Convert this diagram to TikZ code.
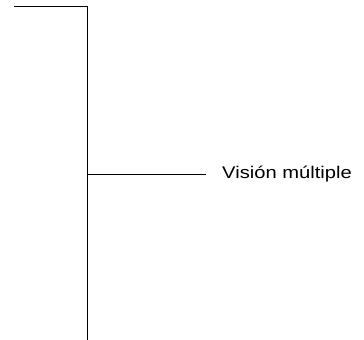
\documentclass[tikz,border=0pt]{standalone}
\usepackage{fontspec}
\setmainfont{Liberation Sans}
\begin{document}
\begin{tikzpicture}[x=1bp,y=1bp,
  rule/.style={line width=0.9bp, black},
  lbl/.style={font=\fontsize{17}{20}\selectfont, anchor=base west, inner sep=0pt}]
\useasboundingbox (0,0) rectangle (364,340);
\coordinate (tl) at (14,334);
\coordinate (tr) at (87,334);
\coordinate (bot) at (87,0);
\coordinate (mid) at (87,166);
\coordinate (tip) at (206,166);
\node[lbl] (vm) at (222,162) {\scalebox{1.19}[1]{Visión múltiple}};
\draw[rule] (tl) -- (tr) -- (bot);
\draw[rule] (mid) -- (tip);
\end{tikzpicture}
\end{document}
